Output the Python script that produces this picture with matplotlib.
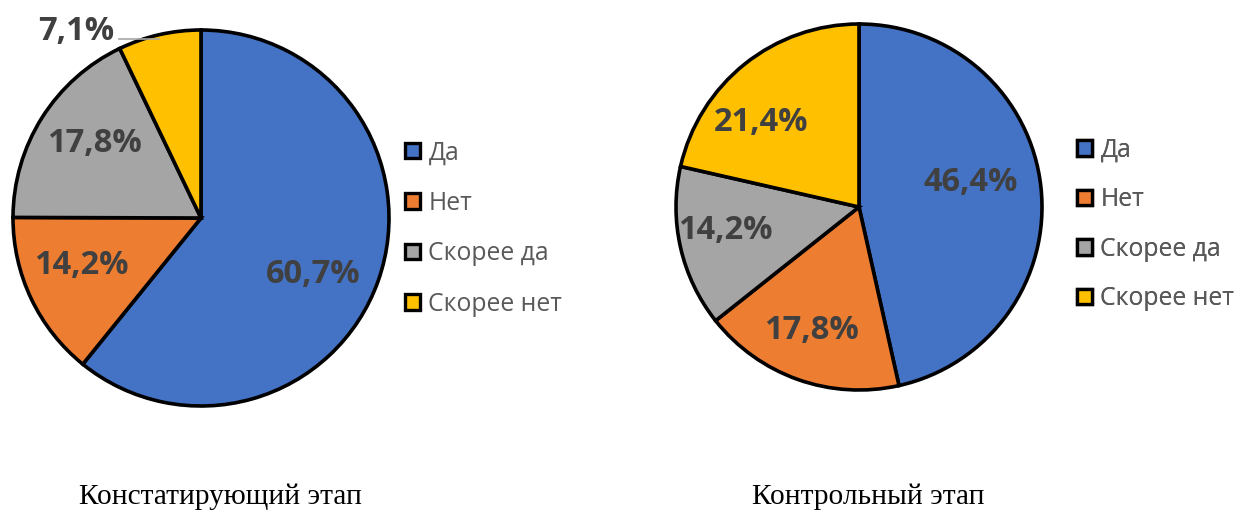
import numpy as np
import matplotlib.pyplot as plt
from matplotlib.patches import Patch

categories = ['Да', 'Нет', 'Скорее да', 'Скорее нет']
left_values = [60.7, 14.2, 17.8, 7.1]
right_values = [46.4, 17.8, 14.2, 21.4]
left_caption = 'Констатирующий этап'
right_caption = 'Контрольный этап'

colors = ['#4472C4', '#ED7D31', '#A5A5A5', '#FFC000']
label_color = '#404040'

fig = plt.figure(figsize=(12.34, 5.13), dpi=100)
ax = fig.add_axes([0, 0, 1, 1])


def fmt(v):
    return f"{v:.1f}%".replace('.', ',')


def draw_pie(values, center, radius, label_dist, label_shift):
    wedges, _ = ax.pie(values, colors=colors, startangle=90, counterclock=False,
                       center=center, radius=radius,
                       wedgeprops=dict(edgecolor='black', linewidth=2.6))
    for w, v, d, s in zip(wedges, values, label_dist, label_shift):
        ang = np.deg2rad((w.theta1 + w.theta2) / 2 + s)
        if d is None:
            # small slice: label outside with a leader line
            px = center[0] + radius * np.cos(ang)
            py = center[1] + radius * np.sin(ang)
            ax.plot([px, px - 40], [py - 4, py - 4], color='#A6A6A6', lw=1.2)
            ax.text(px - 45, py + 3, fmt(v), ha='right', va='center',
                    fontsize=23.5, fontweight='bold', family='Open Sans',
                    color=label_color)
        else:
            x = center[0] + d * radius * np.cos(ang)
            y = center[1] + d * radius * np.sin(ang) - 3
            ax.text(x, y, fmt(v), ha='center', va='center',
                    fontsize=23.5, fontweight='bold', family='Open Sans',
                    color=label_color)


def draw_legend(anchor, spacing):
    handles = [Patch(facecolor=c, edgecolor='black', linewidth=2.4) for c in colors]
    leg = ax.legend(handles, categories, loc='center left', bbox_to_anchor=anchor,
                    bbox_transform=ax.transData, frameon=False, borderpad=0,
                    borderaxespad=0, handlelength=0.6, handleheight=0.6,
                    handletextpad=0.35, labelspacing=spacing,
                    prop={'family': 'Open Sans', 'size': 17.8}, labelcolor='#595959')
    ax.add_artist(leg)


draw_pie(left_values, (201, 295), 188, [0.66, 0.68, 0.70, None], [-6, -5, -4, 0])
draw_pie(right_values, (859, 306), 183, [0.63, 0.71, 0.74, 0.72], [7.5, -2, -4, 9.5])

draw_legend((405, 284.5), 1.03)
draw_legend((1077, 288.5), 0.99)

ax.text(220, 16, left_caption, ha='center', va='center', fontsize=21.2,
        family='Liberation Serif', color='black')
ax.text(868, 16, right_caption, ha='center', va='center', fontsize=21.2,
        family='Liberation Serif', color='black')

ax.set_xlim(0, 1234)
ax.set_ylim(0, 513)
ax.axis('off')

fig.savefig('out.png', dpi=100)
